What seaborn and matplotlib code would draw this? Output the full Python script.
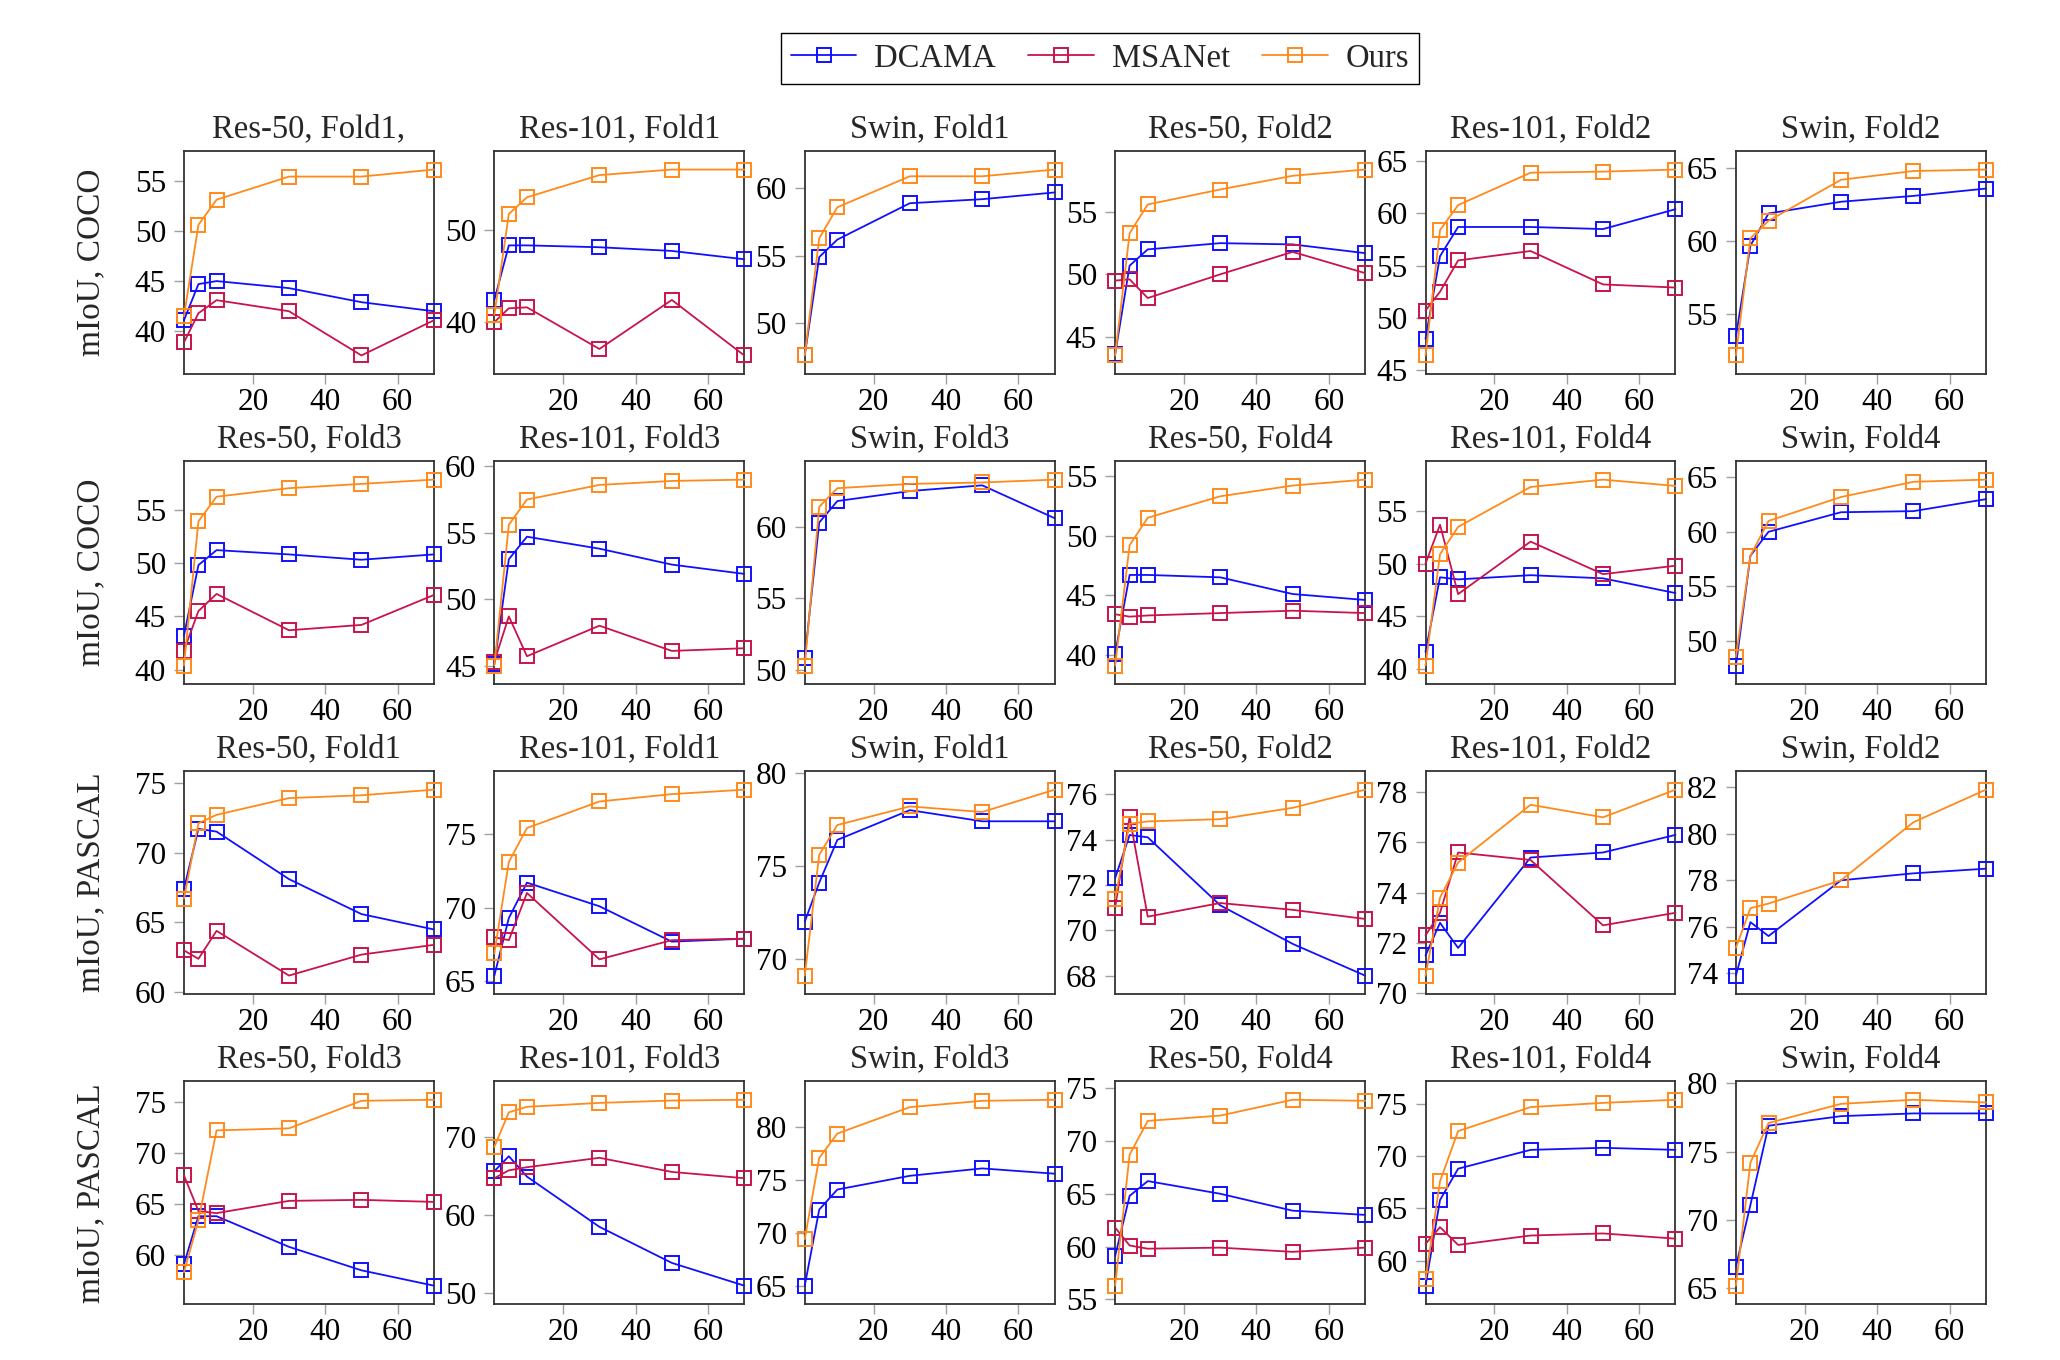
import numpy as np
import pandas as pd
import matplotlib
matplotlib.use("Agg")
import matplotlib.pyplot as plt
from matplotlib.ticker import MultipleLocator, FixedLocator
import seaborn as sns

# ---------------- data ----------------
shots = [1, 5, 10, 30, 50, 70]
methods = ["DCAMA", "MSANet", "Ours"]
palette = {"DCAMA": "#1010ff", "MSANet": "#c8144b", "Ours": "#ff8a1c"}

titles_row1 = ["Res-50, Fold1,", "Res-101, Fold1", "Swin, Fold1", "Res-50, Fold2", "Res-101, Fold2", "Swin, Fold2"]
titles_row2 = ["Res-50, Fold3", "Res-101, Fold3", "Swin, Fold3", "Res-50, Fold4", "Res-101, Fold4", "Swin, Fold4"]
titles_row3 = ["Res-50, Fold1", "Res-101, Fold1", "Swin, Fold1", "Res-50, Fold2", "Res-101, Fold2", "Swin, Fold2"]
titles_row4 = ["Res-50, Fold3", "Res-101, Fold3", "Swin, Fold3", "Res-50, Fold4", "Res-101, Fold4", "Swin, Fold4"]
row_labels = ["mIoU, COCO", "mIoU, COCO", "mIoU, PASCAL", "mIoU, PASCAL"]
x_ticks = [20, 40, 60]
y_steps = [[5, 10, 5, 5, 5, 5],
           [5, 5, 5, 5, 5, 5],
           [5, 5, 5, 2, 2, 2],
           [5, 10, 5, 5, 5, 5]]

# Row 1: COCO, Fold1 / Fold2
dcama_row1 = [[41.1, 44.7, 45.0, 44.3, 42.9, 42.0],
              [42.4, 48.3, 48.3, 48.1, 47.7, 46.8],
              [47.6, 54.9, 56.2, 58.9, 59.2, 59.7],
              [43.6, 50.7, 52.0, 52.5, 52.4, 51.7],
              [48.0, 55.9, 58.7, 58.7, 58.5, 60.4],
              [53.5, 59.7, 61.9, 62.7, 63.1, 63.6]]
msanet_row1 = [[38.9, 41.8, 43.1, 42.0, 37.6, 41.1],
               [40.0, 41.5, 41.6, 37.1, 42.4, 36.4],
               None,
               [49.5, 49.6, 48.1, 50.0, 51.8, 50.1],
               [50.7, 52.5, 55.5, 56.4, 53.2, 52.9],
               None]
ours_row1 = [[41.5, 50.6, 53.1, 55.4, 55.4, 56.1],
             [40.8, 51.7, 53.5, 55.9, 56.5, 56.5],
             [47.6, 56.3, 58.6, 60.9, 60.9, 61.4],
             [43.5, 53.3, 55.6, 56.8, 57.9, 58.4],
             [46.4, 58.4, 60.8, 63.9, 64.0, 64.2],
             [52.2, 60.2, 61.4, 64.2, 64.8, 64.9]]

# Row 2: COCO, Fold3 / Fold4
dcama_row2 = [[43.2, 49.8, 51.2, 50.8, 50.3, 50.8],
              [45.1, 53.0, 54.7, 53.8, 52.6, 51.9],
              [50.8, 60.3, 61.8, 62.5, 62.9, 60.6],
              [40.1, 46.7, 46.7, 46.5, 45.1, 44.6],
              [41.6, 48.7, 48.5, 48.9, 48.6, 47.2],
              [47.7, 57.8, 60.0, 61.8, 61.9, 63.0]]
msanet_row2 = [[41.8, 45.5, 47.1, 43.7, 44.2, 47.0],
               [45.3, 48.7, 45.7, 48.0, 46.1, 46.3],
               None,
               [43.4, 43.2, 43.3, 43.5, 43.7, 43.5],
               [50.0, 53.7, 47.1, 52.1, 49.0, 49.8],
               None]
ours_row2 = [[40.4, 53.9, 56.2, 57.0, 57.4, 57.8],
             [45.0, 55.6, 57.5, 58.6, 58.9, 59.0],
             [50.3, 61.4, 62.7, 63.0, 63.1, 63.3],
             [39.1, 49.2, 51.5, 53.3, 54.2, 54.7],
             [40.3, 50.9, 53.5, 57.3, 58.0, 57.4],
             [48.5, 57.8, 61.0, 63.2, 64.6, 64.8]]

# Row 3: PASCAL, Fold1 / Fold2
dcama_row3 = [[67.4, 71.7, 71.5, 68.1, 65.6, 64.5],
              [65.4, 69.3, 71.7, 70.1, 67.7, 67.9],
              [72.0, 74.1, 76.4, 78.0, 77.4, 77.4],
              [72.3, 74.2, 74.1, 71.1, 69.4, 68.0],
              [71.5, 72.8, 71.8, 75.4, 75.6, 76.3],
              [73.9, 76.2, 75.6, 78.0, 78.3, 78.5]]
msanet_row3 = [[63.0, 62.4, 64.4, 61.2, 62.7, 63.4],
               [68.0, 67.8, 71.0, 66.5, 67.8, 67.9],
               None,
               [71.0, 75.0, 70.6, 71.2, 70.9, 70.5],
               [72.3, 73.2, 75.6, 75.3, 72.7, 73.2],
               None]
ours_row3 = [[66.7, 72.1, 72.7, 73.9, 74.1, 74.5],
             [66.9, 73.1, 75.4, 77.2, 77.7, 78.0],
             [69.1, 75.6, 77.2, 78.2, 77.9, 79.1],
             [71.4, 74.7, 74.8, 74.9, 75.4, 76.2],
             [70.7, 73.8, 75.2, 77.5, 77.0, 78.1],
             [75.1, 76.8, 77.0, 78.0, 80.5, 81.9]]

# Row 4: PASCAL, Fold3 / Fold4
dcama_row4 = [[59.1, 63.8, 63.8, 60.8, 58.5, 57.0],
              [65.6, 67.5, 64.9, 58.5, 53.9, 51.0],
              [65.0, 72.2, 74.1, 75.4, 76.1, 75.6],
              [59.1, 64.8, 66.2, 65.0, 63.4, 63.0],
              [57.6, 65.8, 68.8, 70.6, 70.8, 70.6],
              [66.6, 71.1, 76.9, 77.6, 77.8, 77.8]]
msanet_row4 = [[67.8, 64.3, 64.1, 65.3, 65.4, 65.2],
               [64.7, 65.7, 66.1, 67.3, 65.5, 64.7],
               None,
               [61.8, 60.1, 59.8, 59.9, 59.5, 59.9],
               [61.6, 63.2, 61.5, 62.4, 62.6, 62.1],
               None]
ours_row4 = [[58.3, 63.4, 72.2, 72.4, 75.1, 75.2],
             [68.7, 73.1, 73.8, 74.3, 74.6, 74.7],
             [69.4, 77.1, 79.4, 81.9, 82.5, 82.6],
             [56.3, 68.7, 71.9, 72.4, 73.9, 73.8],
             [58.2, 67.6, 72.4, 74.7, 75.1, 75.4],
             [65.2, 74.2, 77.1, 78.5, 78.8, 78.6]]

titles = [titles_row1, titles_row2, titles_row3, titles_row4]
dcama = [dcama_row1, dcama_row2, dcama_row3, dcama_row4]
msanet = [msanet_row1, msanet_row2, msanet_row3, msanet_row4]
ours = [ours_row1, ours_row2, ours_row3, ours_row4]

# ---------------- style ----------------
sns.set_style("white")
plt.rcParams["font.family"] = ["Liberation Serif", "DejaVu Serif"]
plt.rcParams["mathtext.fontset"] = "stix"
FS_TICK = 22.5
FS_TITLE = 23.5
FS_LABEL = 24
FS_LEG = 23.5

fig, axes = plt.subplots(4, 6, figsize=(20.6, 13.6), dpi=100)
fig.subplots_adjust(left=0.0893, right=0.964, top=0.889, bottom=0.041,
                    wspace=0.242, hspace=0.39)

legend_handles = None
for r in range(4):
    for c in range(6):
        ax = axes[r, c]
        series = {"DCAMA": dcama[r][c], "MSANet": msanet[r][c], "Ours": ours[r][c]}
        rows = []
        order = []
        for m in methods:
            vals = series[m]
            if vals is None:
                continue
            order.append(m)
            for s, v in zip(shots, vals):
                rows.append({"shot": s, "miou": v, "method": m})
        df = pd.DataFrame(rows)
        sns.lineplot(data=df, x="shot", y="miou", hue="method", hue_order=order,
                     palette=palette, marker="s", markersize=9.5, linewidth=1.3,
                     markeredgewidth=1.4, errorbar=None, sort=False,
                     legend=False, ax=ax)
        for line in ax.get_lines():
            col = line.get_color()
            line.set_markeredgecolor(col)
            line.set_markerfacecolor("none")
            line.set_clip_on(False)
            line.set_zorder(3)
        if r == 0 and c == 0:
            legend_handles = list(ax.get_lines())

        ax.margins(x=0, y=0.1)
        ax.xaxis.set_major_locator(FixedLocator(x_ticks))
        ax.yaxis.set_major_locator(MultipleLocator(y_steps[r][c]))
        ax.set_title(titles[r][c], fontsize=FS_TITLE, pad=10)
        ax.set_xlabel("")
        if c == 0:
            ax.set_ylabel(row_labels[r], fontsize=FS_LABEL)
            ax.yaxis.set_label_coords(-0.31, 0.5)
        else:
            ax.set_ylabel("")
        ax.tick_params(axis="both", which="major", direction="out", length=7,
                       width=1, color="#a0a0a0", labelsize=FS_TICK, labelcolor="black",
                       bottom=True, left=True, top=False, right=False)
        ax.tick_params(axis="x", pad=3)
        ax.tick_params(axis="y", pad=6)
        for sp in ax.spines.values():
            sp.set_color("#333333")
            sp.set_linewidth(1.3)
            sp.set_zorder(2.5)
        ax.grid(False)

leg = fig.legend(legend_handles, methods, loc="center", bbox_to_anchor=(0.534, 0.957),
                 ncol=3, frameon=True, fancybox=False, edgecolor="black",
                 fontsize=FS_LEG, handlelength=2.0, columnspacing=1.0,
                 borderpad=0.3, handletextpad=0.55)
leg.get_frame().set_linewidth(1.0)
leg.get_frame().set_alpha(1)

fig.savefig("out.png", dpi=100)
